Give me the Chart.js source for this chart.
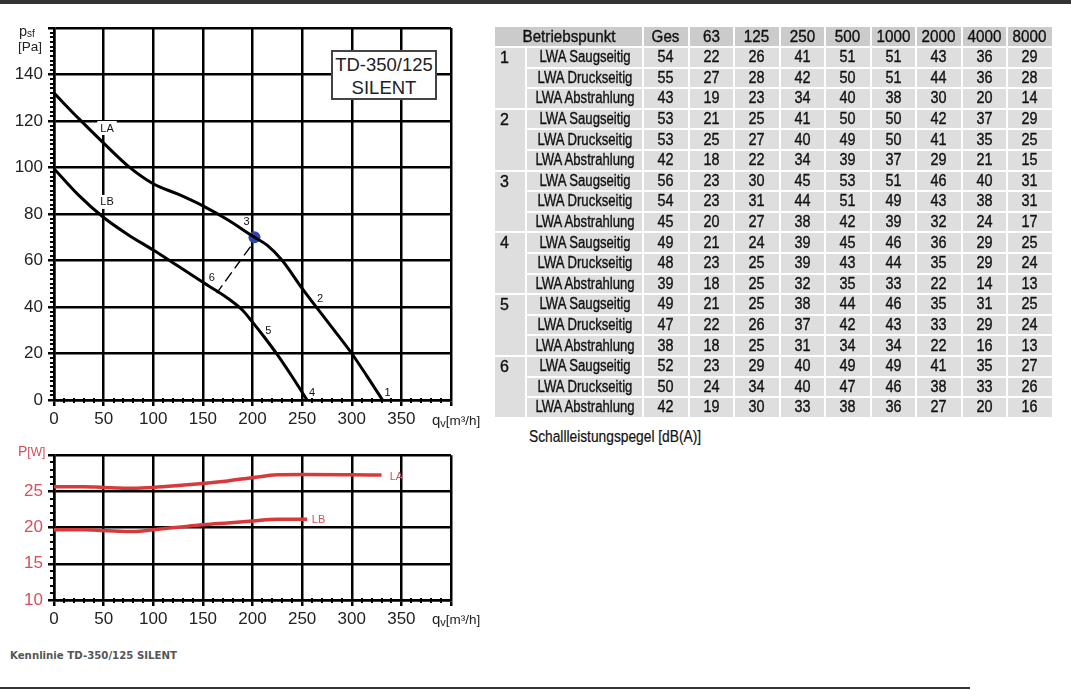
<!DOCTYPE html>
<html><head><meta charset="utf-8">
<script src="https://cdn.jsdelivr.net/npm/chart.js@4.4.0/dist/chart.umd.min.js"></script>
<style>
html,body{margin:0;padding:0;background:#fff;}
body{width:1071px;height:691px;overflow:hidden;position:relative;font-family:"Liberation Sans",Arial,sans-serif;color:#222;}
.abs{position:absolute;white-space:nowrap;line-height:1;}
#topbar{left:0;top:0;width:1071px;height:4px;background:#333;}
#botline{left:0;top:687px;width:970px;height:2px;background:#333;}
#c1{position:absolute;left:0;top:0;}
#c2{position:absolute;left:0;top:440px;}
#box{left:331px;top:50px;width:102px;height:46px;border:2px solid #444;background:#fff;text-align:center;font-size:18.5px;color:#222;}
#caption{left:10px;top:651px;font-family:"DejaVu Sans",Verdana,sans-serif;font-weight:bold;font-size:10.2px;color:#555;}
#tbl{position:absolute;left:493px;top:25px;border-collapse:collapse;table-layout:fixed;width:559px;font-family:"Liberation Sans",Arial,sans-serif;font-size:16px;color:#111;-webkit-text-stroke:0.35px #111;}
#tbl td,#tbl th{border:2px solid #fff;padding:0;text-align:center;font-weight:normal;line-height:16px;overflow:hidden;white-space:nowrap;}
#tbl th{background:#cbcbcb;height:19px;}
#tbl td{background:#dedede;height:18.6px;}
#tbl td.num{text-align:left;padding-left:5px;vertical-align:top;padding-top:2px;}
#tbl .s{width:200%;margin-left:-50%;text-align:center;transform:scaleX(0.9);}
#tbl .lab{transform:scaleX(0.82);}
#tbl th .s{transform:scaleX(0.95);}
#schall{left:529px;top:429px;font-size:16px;color:#111;transform:scaleX(0.86);transform-origin:0 0;-webkit-text-stroke:0.2px #111;}
</style>
</head><body>
<div id="topbar" class="abs"></div>
<canvas id="c1" width="500" height="440" style="width:500px;height:440px"></canvas>
<canvas id="c2" width="500" height="200" style="width:500px;height:200px"></canvas>

<div class="abs" style="left:19px;top:24px;font-size:14.5px;">p<span style="font-size:10px;position:relative;top:1px;">sf</span></div>
<div class="abs" style="left:18px;top:40px;font-size:13.5px;">[Pa]</div>
<div class="abs" style="left:432px;top:412px;font-size:15px;">q<span style="font-size:11px;position:relative;top:2px;">v</span><span style="font-size:13.5px;">[m³/h]</span></div>
<div class="abs" style="left:432px;top:611px;font-size:15px;">q<span style="font-size:11px;position:relative;top:2px;">v</span><span style="font-size:13.5px;">[m³/h]</span></div>
<div class="abs" style="left:18px;top:444px;font-size:14px;color:#d4505a;">P<span style="font-size:12px;">[W]</span></div>
<div id="box" class="abs"><div style="margin-top:4px;">TD-350/125</div><div style="margin-top:4px;">SILENT</div></div>

<table id="tbl"></table>
<div id="schall" class="abs">Schallleistungspegel [dB(A)]</div>
<div id="caption" class="abs">Kennlinie TD-350/125 SILENT</div>
<div id="botline" class="abs"></div>

<script>
// ---------- pressure curves (q in m3/h, p in Pa) ----------
const laQ = [0, 25, 50, 75, 100, 125, 150, 175, 200, 215, 230, 250, 275, 300, 315, 331];
const laP = [132, 121, 110.5, 100.5, 93, 88.5, 83.5, 77.5, 70.5, 66.5, 60, 48, 34, 20, 10.5, 0];
const lbQ = [0, 25, 50, 75, 100, 125, 150, 175, 190, 200, 212, 225, 240, 255];
const lbP = [99.5, 88, 78.5, 71, 64.5, 57.6, 50.6, 43.8, 38.6, 33.5, 27, 19.5, 10, 0];
// operating line 3 -> 6 and operating point 3
const opLineQ = [198, 164];
const opLineP = [66, 46];
const opPointQ = [202];
const opPointP = [70];
// ---------- power curves (P in W) ----------
const pwLaQ = [0, 30, 50, 80, 100, 125, 150, 175, 200, 225, 250, 300, 330];
const pwLaW = [25.65, 25.65, 25.55, 25.45, 25.55, 25.8, 26.1, 26.45, 26.9, 27.3, 27.35, 27.3, 27.25];
const pwLbQ = [0, 30, 50, 80, 100, 125, 150, 175, 200, 225, 255];
const pwLbW = [19.7, 19.7, 19.6, 19.45, 19.7, 20.05, 20.4, 20.65, 20.9, 21.15, 21.15];
// ---------- ticks ----------
const qTicks = [0, 50, 100, 150, 200, 250, 300, 350, 400];
const pTicks = [0, 20, 40, 60, 80, 100, 120, 140, 160];
const wTicks = [10, 15, 20, 25, 30];
// ---------- curve labels ----------
const topLabelText = ['LA', 'LB', '1', '2', '3', '4', '5', '6'];
const topLabelQ = [53.4, 53.4, 336, 268, 194, 260, 216, 159];
const topLabelP = [117, 85.2, 3.4, 43.7, 76.6, 3.1, 30.1, 52.8];
const botLabelText = ['LA', 'LB'];
const botLabelQ = [345, 266.6];
const botLabelW = [27.1, 21.1];
// ---------- sound table ----------
const tableHead = ['Betriebspunkt', 'Ges', '63', '125', '250', '500', '1000', '2000', '4000', '8000'];
const pointNames = ['1', '2', '3', '4', '5', '6'];
const rowTypes = ['LWA Saugseitig', 'LWA Druckseitig', 'LWA Abstrahlung'];
const bp1 = [[54,22,26,41,51,51,43,36,29],[55,27,28,42,50,51,44,36,28],[43,19,23,34,40,38,30,20,14]];
const bp2 = [[53,21,25,41,50,50,42,37,29],[53,25,27,40,49,50,41,35,25],[42,18,22,34,39,37,29,21,15]];
const bp3 = [[56,23,30,45,53,51,46,40,31],[54,23,31,44,51,49,43,38,31],[45,20,27,38,42,39,32,24,17]];
const bp4 = [[49,21,24,39,45,46,36,29,25],[48,23,25,39,43,44,35,29,24],[39,18,25,32,35,33,22,14,13]];
const bp5 = [[49,21,25,38,44,46,35,31,25],[47,22,26,37,42,43,33,29,24],[38,18,25,31,34,34,22,16,13]];
const bp6 = [[52,23,29,40,49,49,41,35,27],[50,24,34,40,47,46,38,33,26],[42,19,30,33,38,36,27,20,16]];
const bpValues = [bp1, bp2, bp3, bp4, bp5, bp6];

// ----- build table -----
(function(){
  const t = document.getElementById('tbl');
  const s = (txt, cls) => '<div class="s' + (cls ? ' ' + cls : '') + '">' + txt + '</div>';
  let html = '<colgroup><col style="width:32px"><col style="width:117px">';
  for (let i = 1; i < tableHead.length; i++) html += '<col style="width:45.5px">';
  html += '</colgroup><tr><th colspan="2">' + s(tableHead[0]) + '</th>';
  for (let i = 1; i < tableHead.length; i++) html += '<th>' + s(tableHead[i]) + '</th>';
  html += '</tr>';
  pointNames.forEach((pn, pi) => {
    rowTypes.forEach((rt, ri) => {
      html += '<tr>';
      if (ri === 0) html += '<td class="num" rowspan="3">' + pn + '</td>';
      html += '<td>' + s(rt, 'lab') + '</td>';
      bpValues[pi][ri].forEach(v => html += '<td>' + s(v) + '</td>');
      html += '</tr>';
    });
  });
  t.innerHTML = html;
})();

const zip = (xs, ys) => xs.map((x, i) => ({x: x, y: ys[i]}));
const RED = '#d83a3c';
const RED_TXT = '#d4505a';
const tickFont = {family: '"Liberation Sans", Arial, sans-serif', size: 17};

function minorTicks(stepX, stepY, majX, majY) {
  return {
    id: 'minorTicks',
    afterDraw(chart) {
      const ctx = chart.ctx, xs = chart.scales.x, ys = chart.scales.y, a = chart.chartArea;
      ctx.save();
      ctx.strokeStyle = '#000';
      ctx.lineWidth = 2;
      ctx.beginPath();
      for (let v = ys.min; v <= ys.max + 1e-9; v += stepY) {
        if (Math.abs(v / majY - Math.round(v / majY)) < 1e-6) continue;
        const y = Math.round(ys.getPixelForValue(v));
        ctx.moveTo(a.left - 4, y); ctx.lineTo(a.left, y);
      }
      for (let v = xs.min; v <= xs.max + 1e-9; v += stepX) {
        if (Math.abs(v / majX - Math.round(v / majX)) < 1e-6) continue;
        const x = Math.round(xs.getPixelForValue(v));
        ctx.moveTo(x, a.bottom - 2); ctx.lineTo(x, a.bottom + 3);
      }
      ctx.stroke();
      ctx.restore();
    }
  };
}

function textLabels(texts, qs, vs, color, bgFor, hook) {
  const p = {id: 'textLabels' + hook};
  p[hook] = function(chart) {
    const ctx = chart.ctx, xs = chart.scales.x, ys = chart.scales.y;
    ctx.save();
    ctx.font = '11px "Liberation Sans", Arial, sans-serif';
    ctx.textAlign = 'center';
    ctx.textBaseline = 'middle';
    texts.forEach((t, i) => {
      const x = xs.getPixelForValue(qs[i]), y = ys.getPixelForValue(vs[i]);
      if (bgFor.indexOf(t) >= 0) {
        const w = ctx.measureText(t).width + 6;
        ctx.fillStyle = '#fff';
        ctx.fillRect(x - w / 2, y - 7, w, 14);
      }
      ctx.fillStyle = color;
      ctx.fillText(t, x, y + 0.5);
    });
    ctx.restore();
  };
  return p;
}

function gridOpts() {
  return {color: '#000', lineWidth: 2.5, drawTicks: true, tickLength: 6, tickWidth: 2.5, tickColor: '#000'};
}

new Chart(document.getElementById('c1'), {
  type: 'scatter',
  data: {datasets: [
    {data: zip(laQ, laP), showLine: true, borderColor: '#000', borderWidth: 3, pointRadius: 0, cubicInterpolationMode: 'monotone'},
    {data: zip(lbQ, lbP), showLine: true, borderColor: '#000', borderWidth: 3, pointRadius: 0, cubicInterpolationMode: 'monotone'},
    {data: zip(opLineQ, opLineP), showLine: true, borderColor: '#000', borderWidth: 1.4, borderDash: [11, 5], pointRadius: 0},
    {data: zip(opPointQ, opPointP), showLine: false, pointRadius: 6, pointBackgroundColor: '#2a48ad', pointBorderWidth: 0}
  ]},
  options: {
    responsive: false, animation: false, devicePixelRatio: 1,
    layout: {padding: {left: 0, right: 49, top: 28, bottom: 0}},
    plugins: {legend: {display: false}, tooltip: {enabled: false}},
    scales: {
      x: {type: 'linear', min: qTicks[0], max: qTicks[qTicks.length - 1],
          afterBuildTicks: s => { s.ticks = qTicks.map(v => ({value: v})); },
          ticks: {color: '#222', font: tickFont, maxRotation: 0, autoSkip: false, padding: 3,
                  callback: v => v === qTicks[qTicks.length - 1] ? '' : String(v)},
          grid: gridOpts(), border: {color: '#000', width: 2.5},
          afterFit: s => { s.height = 40; }},
      y: {type: 'linear', min: pTicks[0], max: pTicks[pTicks.length - 1],
          afterBuildTicks: s => { s.ticks = pTicks.map(v => ({value: v})); },
          ticks: {color: '#222', font: tickFont, padding: 5,
                  callback: v => v === pTicks[pTicks.length - 1] ? '' : String(v)},
          grid: gridOpts(), border: {color: '#000', width: 2.5},
          afterFit: s => { s.width = 54; }}
    }
  },
  plugins: [minorTicks(10, 2, 50, 20), textLabels(topLabelText, topLabelQ, topLabelP, '#111', ['LA', 'LB'], 'beforeDatasetsDraw')]
});

new Chart(document.getElementById('c2'), {
  type: 'scatter',
  data: {datasets: [
    {data: zip(pwLaQ, pwLaW), showLine: true, borderColor: RED, borderWidth: 3.5, pointRadius: 0, cubicInterpolationMode: 'monotone'},
    {data: zip(pwLbQ, pwLbW), showLine: true, borderColor: RED, borderWidth: 3.5, pointRadius: 0, cubicInterpolationMode: 'monotone'}
  ]},
  options: {
    responsive: false, animation: false, devicePixelRatio: 1,
    layout: {padding: {left: 0, right: 49, top: 10, bottom: 0}},
    plugins: {legend: {display: false}, tooltip: {enabled: false}},
    scales: {
      x: {type: 'linear', min: qTicks[0], max: qTicks[qTicks.length - 1],
          afterBuildTicks: s => { s.ticks = qTicks.map(v => ({value: v})); },
          ticks: {color: '#222', font: tickFont, maxRotation: 0, autoSkip: false, padding: 3,
                  callback: v => v === qTicks[qTicks.length - 1] ? '' : String(v)},
          grid: gridOpts(), border: {color: '#000', width: 2.5},
          afterFit: s => { s.height = 40; }},
      y: {type: 'linear', min: wTicks[0], max: wTicks[wTicks.length - 1],
          afterBuildTicks: s => { s.ticks = wTicks.map(v => ({value: v})); },
          ticks: {color: RED_TXT, font: tickFont, padding: 5,
                  callback: v => v === wTicks[wTicks.length - 1] ? '' : String(v)},
          grid: gridOpts(), border: {color: '#000', width: 2.5},
          afterFit: s => { s.width = 54; }}
    }
  },
  plugins: [minorTicks(10, 1, 50, 5), textLabels(botLabelText, botLabelQ, botLabelW, RED_TXT, [], 'afterDatasetsDraw')]
});
</script>
</body></html>
